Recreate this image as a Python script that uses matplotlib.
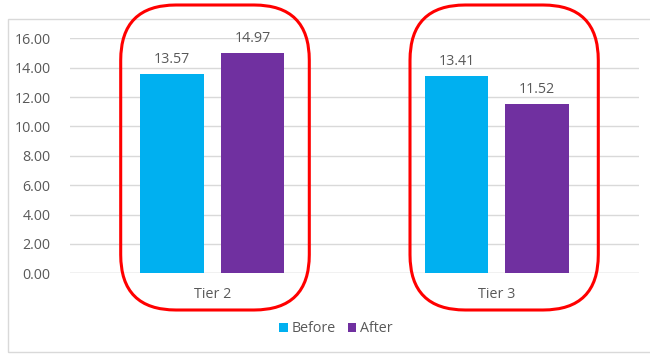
import matplotlib.pyplot as plt
from matplotlib.patches import FancyBboxPatch, Rectangle
import numpy as np

# data
categories = ["Tier 2", "Tier 3"]
before = [13.57, 13.41]
after = [14.97, 11.52]
yticks = [0, 2, 4, 6, 8, 10, 12, 14, 16]

W, H = 650, 354
fig = plt.figure(figsize=(W / 100, H / 100), dpi=100)
plt.rcParams["font.family"] = ["Open Sans", "DejaVu Sans"]
text_color = "#595959"
fs = 10.3

# outer chart border
fig.patches.append(Rectangle((8 / W, 1 - 352 / H), (660 - 8) / W, (352 - 19) / H,
                             transform=fig.transFigure, fill=False,
                             edgecolor="#d9d9d9", linewidth=1))

# plot area
left, right = 70, 639
top, bottom = 38.3, 273.3
ax = fig.add_axes([left / W, 1 - bottom / H, (right - left) / W, (bottom - top) / H])

x = np.arange(len(categories))
bw = 0.222
off = 0.1415
b1 = ax.bar(x - off, before, bw, color="#00b0f0", label="Before", zorder=3)
b2 = ax.bar(x + off, after, bw, color="#7030a0", label="After", zorder=3)

for bars in (b1, b2):
    for r in bars:
        ax.text(r.get_x() + r.get_width() / 2, r.get_height() + 0.5, f"{r.get_height():.2f}",
                ha="center", va="bottom", fontsize=fs, color=text_color)

ax.set_xlim(-0.5, 1.5)
ax.set_ylim(0, 16)
ax.set_yticks(yticks)
ax.set_yticklabels([f"{v:.2f}" for v in yticks], fontsize=fs, color=text_color)
ax.set_xticks(x)
ax.set_xticklabels(categories, fontsize=fs, color=text_color)
ax.tick_params(axis="both", length=0)
ax.tick_params(axis="y", pad=14)
ax.tick_params(axis="x", pad=10)
ax.grid(axis="y", color="#d9d9d9", linewidth=1, zorder=0)
for s in ax.spines.values():
    s.set_visible(False)
ax.axhline(0, color="#d9d9d9", linewidth=1, zorder=2)

# red rounded highlight boxes
for x0, x1 in [(120.7, 309.3), (410, 598.3)]:
    y0, y1 = 5, 310
    box = FancyBboxPatch((x0 / W, 1 - y1 / H), (x1 - x0) / W, (y1 - y0) / H,
                         boxstyle="round,pad=0,rounding_size=0.085",
                         transform=fig.transFigure, fill=False,
                         edgecolor="#ff0000", linewidth=2.2,
                         mutation_aspect=W / H)
    fig.patches.append(box)

fig.legend(handles=[b1, b2], loc="center", bbox_to_anchor=(336 / W, 1 - 329 / H),
           ncol=2, frameon=False, fontsize=fs, handlelength=0.6, handleheight=0.6,
           handletextpad=0.3, columnspacing=0.8, labelcolor=text_color)

fig.savefig("out.png", dpi=100)
